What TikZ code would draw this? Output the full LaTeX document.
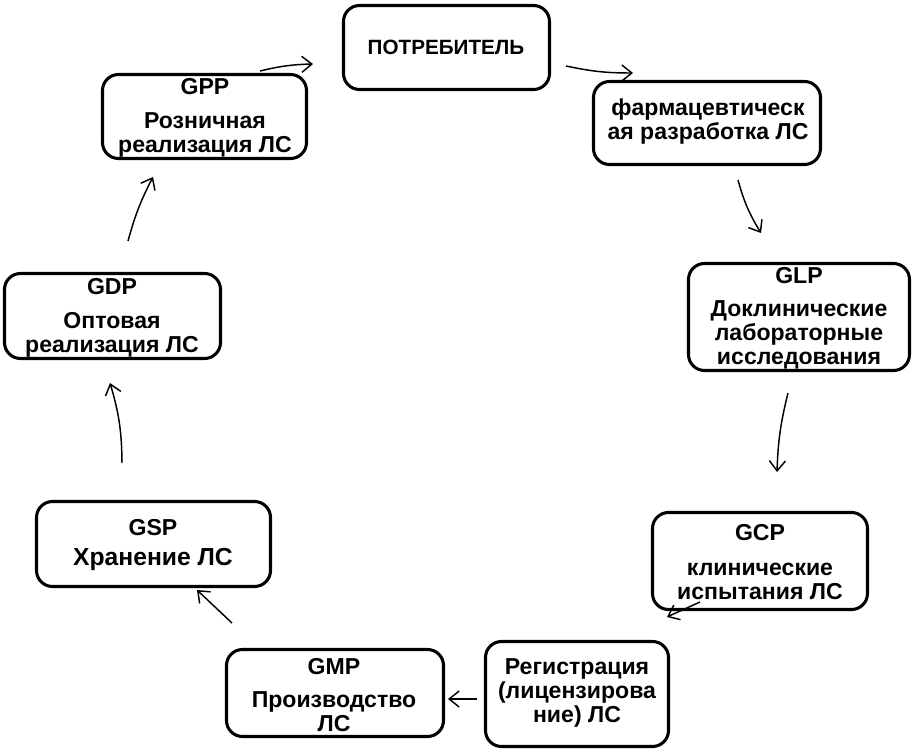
\documentclass[tikz,border=0pt]{standalone}
\usepackage{fontspec}
\setmainfont{Liberation Sans}
\usetikzlibrary{arrows.meta}
\tikzset{
  box/.style={draw, line width=2.3pt, rounded corners=12pt, inner sep=0pt, fill=white},
  txt/.style={inner sep=0pt, align=center, font=\bfseries\fontsize{17.3}{18}\selectfont},
  arr/.style={line width=1.1pt, -{Straight Barb[length=7.5pt,width=12pt,line width=1.1pt]}},
}
\begin{document}
\begin{tikzpicture}[x=0.75pt,y=-0.75pt]
\useasboundingbox (0,0) rectangle (915,749);
% boxes (centre, size in px)
\node[box, minimum width=206*0.75pt, minimum height=84*0.75pt] (potr) at (446.5,47.5) {};
\node[box, minimum width=227*0.75pt, minimum height=83*0.75pt] (farm) at (707,123) {};
\node[box, minimum width=221*0.75pt, minimum height=107*0.75pt] (glp) at (799,317) {};
\node[box, minimum width=215*0.75pt, minimum height=97*0.75pt] (gcp) at (760,561) {};
\node[box, minimum width=183*0.75pt, minimum height=105*0.75pt] (reg) at (577,694) {};
\node[box, minimum width=217*0.75pt, minimum height=87*0.75pt] (gmp) at (335,693) {};
\node[box, minimum width=234*0.75pt, minimum height=85*0.75pt] (gsp) at (153.5,544) {};
\node[box, minimum width=216*0.75pt, minimum height=85*0.75pt] (gdp) at (112.5,316) {};
\node[box, minimum width=204*0.75pt, minimum height=84*0.75pt] (gpp) at (204.5,116.5) {};
% texts
\node[txt, font=\bfseries\fontsize{15.5}{18}\selectfont] (tpotr) at (446,47) {ПОТРЕБИТЕЛЬ};
\node[txt] (tfarm) at (708,122) {фармацевтическ\\ая разработка ЛС};
\node[txt] (tglp) at (799,318) {GLP\\[7pt]Доклинические\\лабораторные\\исследования};
\node[txt] (tgcp) at (760,562) {GCP\\[8pt]клинические\\испытания ЛС};
\node[txt] (treg) at (577,693) {Регистрация\\(лицензирова\\ние) ЛС};
\node[txt] (tgmp) at (334,695) {GMP\\[7pt]Производство\\ЛС};
\node[txt] (tgsp) at (153,545) {GSP\\[4pt]{\fontsize{18.5}{20}\selectfont Хранение ЛС}};
\node[txt] (tgdp) at (112,318) {GDP\\[7pt]Оптовая\\реализация ЛС};
\node[txt] (tgpp) at (205,118) {GPP\\[7pt]Розничная\\реализация ЛС};
% arrow end points
\coordinate (a1s) at (260,71);  \coordinate (a1e) at (313,64);
\coordinate (a2s) at (566,66);  \coordinate (a2e) at (633,73);
\coordinate (a3s) at (738,180); \coordinate (a3e) at (761,233);
\coordinate (a4s) at (788,393); \coordinate (a4e) at (777,472);
\coordinate (a5s) at (700,602); \coordinate (a5e) at (667,617);
\coordinate (a6s) at (477,699); \coordinate (a6e) at (448,699);
\coordinate (a7s) at (232,623); \coordinate (a7e) at (197,590);
\coordinate (a8s) at (122,463); \coordinate (a8e) at (110,383);
\coordinate (a9s) at (128,241); \coordinate (a9e) at (153,177);
\draw[arr] (a1s) to[bend left=6] (a1e);
\draw[arr] (a2s) to[bend right=6] (a2e);
\draw[arr] (a3s) to[bend right=8] (a3e);
\draw[arr] (a4s) to[bend right=6] (a4e);
\draw[arr] (a5s) to (a5e);
\draw[arr] (a6s) to (a6e);
\draw[arr] (a7s) to (a7e);
\draw[arr] (a8s) to[bend right=8] (a8e);
\draw[arr] (a9s) to[bend left=6] (a9e);
\end{tikzpicture}
\end{document}
